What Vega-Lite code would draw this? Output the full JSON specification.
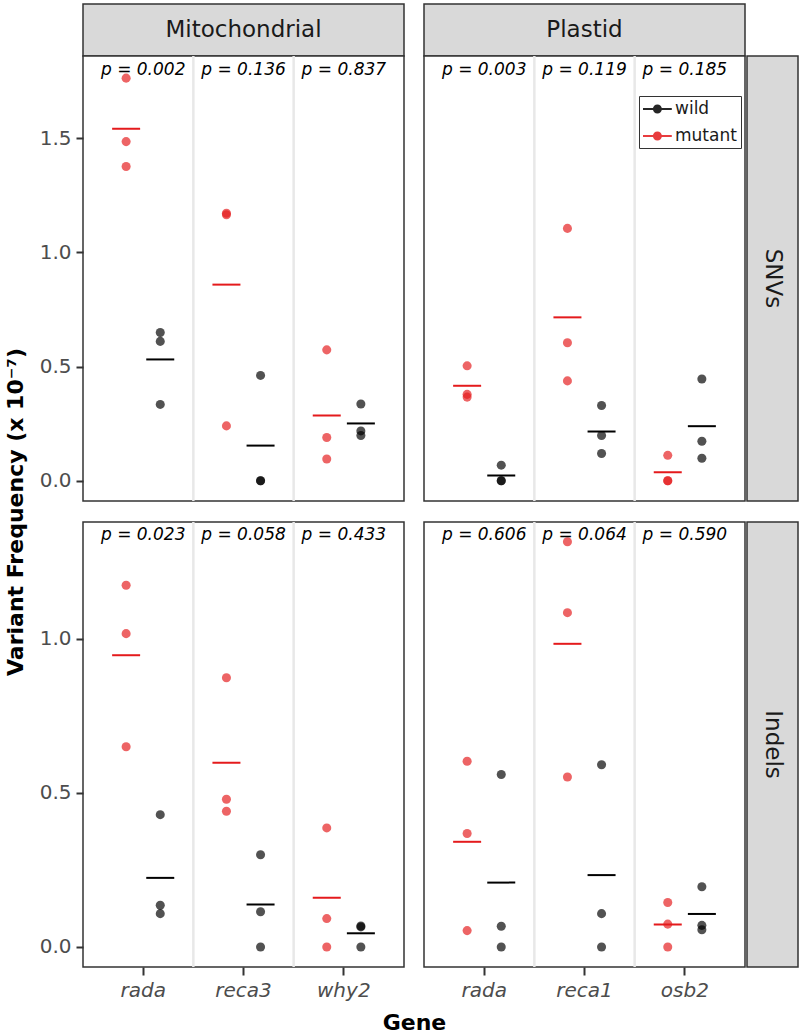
{
  "$schema": "https://vega.github.io/schema/vega-lite/v6.json",
  "background": "white",
  "padding": {"left": 3, "top": 1, "right": 1, "bottom": 0},
  "columns": 4,
  "spacing": {"row": 0, "column": 2},
  "align": "each",
  "bounds": "flush",
  "resolve": {"scale": {"color": "independent"}, "legend": {"color": "independent"}},
  "datasets": {
    "pts": [
      {"org":"Mitochondrial","type":"SNVs","gene":"rada","genotype":"mutant","freq":1.763},
      {"org":"Mitochondrial","type":"SNVs","gene":"rada","genotype":"mutant","freq":1.485},
      {"org":"Mitochondrial","type":"SNVs","gene":"rada","genotype":"mutant","freq":1.376},
      {"org":"Mitochondrial","type":"SNVs","gene":"rada","genotype":"wild","freq":0.649},
      {"org":"Mitochondrial","type":"SNVs","gene":"rada","genotype":"wild","freq":0.610},
      {"org":"Mitochondrial","type":"SNVs","gene":"rada","genotype":"wild","freq":0.334},
      {"org":"Mitochondrial","type":"SNVs","gene":"reca3","genotype":"mutant","freq":1.171},
      {"org":"Mitochondrial","type":"SNVs","gene":"reca3","genotype":"mutant","freq":1.165},
      {"org":"Mitochondrial","type":"SNVs","gene":"reca3","genotype":"mutant","freq":0.240},
      {"org":"Mitochondrial","type":"SNVs","gene":"reca3","genotype":"wild","freq":0.461},
      {"org":"Mitochondrial","type":"SNVs","gene":"reca3","genotype":"wild","freq":0.0},
      {"org":"Mitochondrial","type":"SNVs","gene":"reca3","genotype":"wild","freq":0.0},
      {"org":"Mitochondrial","type":"SNVs","gene":"why2","genotype":"mutant","freq":0.573},
      {"org":"Mitochondrial","type":"SNVs","gene":"why2","genotype":"mutant","freq":0.189},
      {"org":"Mitochondrial","type":"SNVs","gene":"why2","genotype":"mutant","freq":0.095},
      {"org":"Mitochondrial","type":"SNVs","gene":"why2","genotype":"wild","freq":0.336},
      {"org":"Mitochondrial","type":"SNVs","gene":"why2","genotype":"wild","freq":0.218},
      {"org":"Mitochondrial","type":"SNVs","gene":"why2","genotype":"wild","freq":0.198},
      {"org":"Plastid","type":"SNVs","gene":"rada","genotype":"mutant","freq":0.503},
      {"org":"Plastid","type":"SNVs","gene":"rada","genotype":"mutant","freq":0.378},
      {"org":"Plastid","type":"SNVs","gene":"rada","genotype":"mutant","freq":0.366},
      {"org":"Plastid","type":"SNVs","gene":"rada","genotype":"wild","freq":0.068},
      {"org":"Plastid","type":"SNVs","gene":"rada","genotype":"wild","freq":0.0},
      {"org":"Plastid","type":"SNVs","gene":"rada","genotype":"wild","freq":0.0},
      {"org":"Plastid","type":"SNVs","gene":"reca1","genotype":"mutant","freq":1.105},
      {"org":"Plastid","type":"SNVs","gene":"reca1","genotype":"mutant","freq":0.604},
      {"org":"Plastid","type":"SNVs","gene":"reca1","genotype":"mutant","freq":0.437},
      {"org":"Plastid","type":"SNVs","gene":"reca1","genotype":"wild","freq":0.329},
      {"org":"Plastid","type":"SNVs","gene":"reca1","genotype":"wild","freq":0.198},
      {"org":"Plastid","type":"SNVs","gene":"reca1","genotype":"wild","freq":0.119},
      {"org":"Plastid","type":"SNVs","gene":"osb2","genotype":"mutant","freq":0.111},
      {"org":"Plastid","type":"SNVs","gene":"osb2","genotype":"mutant","freq":0.0},
      {"org":"Plastid","type":"SNVs","gene":"osb2","genotype":"mutant","freq":0.0},
      {"org":"Plastid","type":"SNVs","gene":"osb2","genotype":"wild","freq":0.445},
      {"org":"Plastid","type":"SNVs","gene":"osb2","genotype":"wild","freq":0.173},
      {"org":"Plastid","type":"SNVs","gene":"osb2","genotype":"wild","freq":0.098},
      {"org":"Mitochondrial","type":"Indels","gene":"rada","genotype":"mutant","freq":1.173},
      {"org":"Mitochondrial","type":"Indels","gene":"rada","genotype":"mutant","freq":1.016},
      {"org":"Mitochondrial","type":"Indels","gene":"rada","genotype":"mutant","freq":0.649},
      {"org":"Mitochondrial","type":"Indels","gene":"rada","genotype":"wild","freq":0.429},
      {"org":"Mitochondrial","type":"Indels","gene":"rada","genotype":"wild","freq":0.135},
      {"org":"Mitochondrial","type":"Indels","gene":"rada","genotype":"wild","freq":0.108},
      {"org":"Mitochondrial","type":"Indels","gene":"reca3","genotype":"mutant","freq":0.873},
      {"org":"Mitochondrial","type":"Indels","gene":"reca3","genotype":"mutant","freq":0.479},
      {"org":"Mitochondrial","type":"Indels","gene":"reca3","genotype":"mutant","freq":0.440},
      {"org":"Mitochondrial","type":"Indels","gene":"reca3","genotype":"wild","freq":0.299},
      {"org":"Mitochondrial","type":"Indels","gene":"reca3","genotype":"wild","freq":0.114},
      {"org":"Mitochondrial","type":"Indels","gene":"reca3","genotype":"wild","freq":0.0},
      {"org":"Mitochondrial","type":"Indels","gene":"why2","genotype":"mutant","freq":0.386},
      {"org":"Mitochondrial","type":"Indels","gene":"why2","genotype":"mutant","freq":0.092},
      {"org":"Mitochondrial","type":"Indels","gene":"why2","genotype":"mutant","freq":0.0},
      {"org":"Mitochondrial","type":"Indels","gene":"why2","genotype":"wild","freq":0.068},
      {"org":"Mitochondrial","type":"Indels","gene":"why2","genotype":"wild","freq":0.065},
      {"org":"Mitochondrial","type":"Indels","gene":"why2","genotype":"wild","freq":0.0},
      {"org":"Plastid","type":"Indels","gene":"rada","genotype":"mutant","freq":0.602},
      {"org":"Plastid","type":"Indels","gene":"rada","genotype":"mutant","freq":0.368},
      {"org":"Plastid","type":"Indels","gene":"rada","genotype":"mutant","freq":0.053},
      {"org":"Plastid","type":"Indels","gene":"rada","genotype":"wild","freq":0.559},
      {"org":"Plastid","type":"Indels","gene":"rada","genotype":"wild","freq":0.067},
      {"org":"Plastid","type":"Indels","gene":"rada","genotype":"wild","freq":0.0},
      {"org":"Plastid","type":"Indels","gene":"reca1","genotype":"mutant","freq":1.314},
      {"org":"Plastid","type":"Indels","gene":"reca1","genotype":"mutant","freq":1.084},
      {"org":"Plastid","type":"Indels","gene":"reca1","genotype":"mutant","freq":0.551},
      {"org":"Plastid","type":"Indels","gene":"reca1","genotype":"wild","freq":0.591},
      {"org":"Plastid","type":"Indels","gene":"reca1","genotype":"wild","freq":0.108},
      {"org":"Plastid","type":"Indels","gene":"reca1","genotype":"wild","freq":0.0},
      {"org":"Plastid","type":"Indels","gene":"osb2","genotype":"mutant","freq":0.144},
      {"org":"Plastid","type":"Indels","gene":"osb2","genotype":"mutant","freq":0.074},
      {"org":"Plastid","type":"Indels","gene":"osb2","genotype":"mutant","freq":0.0},
      {"org":"Plastid","type":"Indels","gene":"osb2","genotype":"wild","freq":0.195},
      {"org":"Plastid","type":"Indels","gene":"osb2","genotype":"wild","freq":0.070},
      {"org":"Plastid","type":"Indels","gene":"osb2","genotype":"wild","freq":0.056}
    ],
    "pv": [
      {"org":"Mitochondrial","type":"SNVs","gene":"rada","p":"p = 0.002"},
      {"org":"Mitochondrial","type":"SNVs","gene":"reca3","p":"p = 0.136"},
      {"org":"Mitochondrial","type":"SNVs","gene":"why2","p":"p = 0.837"},
      {"org":"Plastid","type":"SNVs","gene":"rada","p":"p = 0.003"},
      {"org":"Plastid","type":"SNVs","gene":"reca1","p":"p = 0.119"},
      {"org":"Plastid","type":"SNVs","gene":"osb2","p":"p = 0.185"},
      {"org":"Mitochondrial","type":"Indels","gene":"rada","p":"p = 0.023"},
      {"org":"Mitochondrial","type":"Indels","gene":"reca3","p":"p = 0.058"},
      {"org":"Mitochondrial","type":"Indels","gene":"why2","p":"p = 0.433"},
      {"org":"Plastid","type":"Indels","gene":"rada","p":"p = 0.606"},
      {"org":"Plastid","type":"Indels","gene":"reca1","p":"p = 0.064"},
      {"org":"Plastid","type":"Indels","gene":"osb2","p":"p = 0.590"}
    ]
  },
  "concat": [
    {"width":321,"height":52,"view":{"fill":"#D9D9D9","stroke":"#333333","strokeWidth":1.5},
     "data":{"values":[{"label":"Mitochondrial"}]},
     "mark":{"type":"text","fontSize":23,"color":"#1A1A1A","font":"DejaVu Sans"},
     "encoding":{"text":{"field":"label"}}},
    {"width":16,"height":1,"view":{"stroke":null},"data":{"values":[{}]},"mark":{"type":"point","opacity":0},"encoding":{}},
    {"width":321,"height":52,"view":{"fill":"#D9D9D9","stroke":"#333333","strokeWidth":1.5},
     "data":{"values":[{"label":"Plastid"}]},
     "mark":{"type":"text","fontSize":23,"color":"#1A1A1A","font":"DejaVu Sans"},
     "encoding":{"text":{"field":"label"}}},
    {"width":1,"height":1,"view":{"stroke":null},"data":{"values":[{}]},"mark":{"type":"point","opacity":0},"encoding":{}},

    {"width":321,"height":445,"view":{"fill":"white","stroke":"#333333","strokeWidth":1.5},
     "layer":[
      {"data":{"values":[{"gene":"reca3"},{"gene":"why2"}]},
       "mark":{"type":"rule","color":"#E8E8E8","strokeWidth":2.5},
       "encoding":{"x":{"field":"gene","type":"nominal","bandPosition":0,"scale":{"domain":["rada","reca3","why2"],"paddingInner":0,"paddingOuter":0.1},"axis":null}}},
      {"data":{"name":"pts"},"transform":[{"filter":"datum.org === 'Mitochondrial' && datum.type === 'SNVs'"}],
       "mark":{"type":"circle","size":82,"opacity":0.68},
       "encoding":{
        "x":{"field":"gene","type":"nominal","scale":{"domain":["rada","reca3","why2"],"paddingInner":0,"paddingOuter":0.1},"axis":null},
        "xOffset":{"field":"genotype","type":"nominal","scale":{"domain":["mutant","wild"],"paddingInner":0,"paddingOuter":0.47}},
        "y":{"field":"freq","type":"quantitative","scale":{"domain":[-0.089,1.86],"nice":false,"zero":false},
             "axis":{"title":null,"values":[0,0.5,1,1.5],"format":".1f","labelFontSize":20,"labelColor":"#4D4D4D","labelFont":"DejaVu Sans","tickSize":7,"tickWidth":2,"tickColor":"#333333","domain":false,"grid":false,"labelPadding":5}},
        "color":{"field":"genotype","type":"nominal","scale":{"domain":["wild","mutant"],"range":["#000000","#E41A1C"]},"legend":null}}},
      {"data":{"name":"pts"},"transform":[{"filter":"datum.org === 'Mitochondrial' && datum.type === 'SNVs'"},{"aggregate":[{"op":"mean","field":"freq","as":"freq"}],"groupby":["gene","genotype"]}],
       "mark":{"type":"tick","thickness":2,"size":28,"opacity":1},
       "encoding":{
        "x":{"field":"gene","type":"nominal","scale":{"domain":["rada","reca3","why2"],"paddingInner":0,"paddingOuter":0.1},"axis":null},
        "xOffset":{"field":"genotype","type":"nominal","scale":{"domain":["mutant","wild"],"paddingInner":0,"paddingOuter":0.47}},
        "y":{"field":"freq","type":"quantitative","scale":{"domain":[-0.089,1.86],"nice":false,"zero":false},
             "axis":{"title":null,"values":[0,0.5,1,1.5],"format":".1f","labelFontSize":20,"labelColor":"#4D4D4D","labelFont":"DejaVu Sans","tickSize":7,"tickWidth":2,"tickColor":"#333333","domain":false,"grid":false,"labelPadding":5}},
        "color":{"field":"genotype","type":"nominal","scale":{"domain":["wild","mutant"],"range":["#000000","#E41A1C"]},"legend":null}}},
      {"data":{"name":"pv"},"transform":[{"filter":"datum.org === 'Mitochondrial' && datum.type === 'SNVs'"}],
       "mark":{"type":"text","fontStyle":"italic","fontSize":17,"color":"#000000","font":"DejaVu Sans"},
       "encoding":{
        "x":{"field":"gene","type":"nominal","scale":{"domain":["rada","reca3","why2"],"paddingInner":0,"paddingOuter":0.1},"axis":null},
        "y":{"datum":1.8,"type":"quantitative","axis":{"title":null,"values":[0,0.5,1,1.5],"format":".1f","labelFontSize":20,"labelColor":"#4D4D4D","labelFont":"DejaVu Sans","tickSize":7,"tickWidth":2,"tickColor":"#333333","domain":false,"grid":false,"labelPadding":5}},
        "text":{"field":"p"}}}
     ]},
    {"width":16,"height":1,"view":{"stroke":null},"data":{"values":[{}]},"mark":{"type":"point","opacity":0},"encoding":{}},
    {"width":321,"height":445,"view":{"fill":"white","stroke":"#333333","strokeWidth":1.5},
     "layer":[
      {"data":{"values":[{"gene":"reca1"},{"gene":"osb2"}]},
       "mark":{"type":"rule","color":"#E8E8E8","strokeWidth":2.5},
       "encoding":{"x":{"field":"gene","type":"nominal","bandPosition":0,"scale":{"domain":["rada","reca1","osb2"],"paddingInner":0,"paddingOuter":0.1},"axis":null}}},
      {"data":{"name":"pts"},"transform":[{"filter":"datum.org === 'Plastid' && datum.type === 'SNVs'"}],
       "mark":{"type":"circle","size":82,"opacity":0.68},
       "encoding":{
        "x":{"field":"gene","type":"nominal","scale":{"domain":["rada","reca1","osb2"],"paddingInner":0,"paddingOuter":0.1},"axis":null},
        "xOffset":{"field":"genotype","type":"nominal","scale":{"domain":["mutant","wild"],"paddingInner":0,"paddingOuter":0.47}},
        "y":{"field":"freq","type":"quantitative","scale":{"domain":[-0.089,1.86],"nice":false,"zero":false},"axis":null},
        "color":{"field":"genotype","type":"nominal","scale":{"domain":["wild","mutant"],"range":["#000000","#E41A1C"]},
          "legend":{"orient":"none","legendX":215,"legendY":40,"title":null,
            "symbolType":"M-1,-0.11H2.2V0.11H-1Z M1.1,0A0.5,0.5 0 1,1 0.1,0A0.5,0.5 0 1,1 1.1,0Z",
            "symbolSize":324,"symbolOpacity":0.85,"symbolStrokeWidth":0,"labelFontSize":17,"labelFont":"DejaVu Sans","labelColor":"#1A1A1A","labelOffset":14,"rowPadding":10,"padding":4,"strokeColor":"#333333","fillColor":"white"}}}},
      {"data":{"name":"pts"},"transform":[{"filter":"datum.org === 'Plastid' && datum.type === 'SNVs'"},{"aggregate":[{"op":"mean","field":"freq","as":"freq"}],"groupby":["gene","genotype"]}],
       "mark":{"type":"tick","thickness":2,"size":28,"opacity":1},
       "encoding":{
        "x":{"field":"gene","type":"nominal","scale":{"domain":["rada","reca1","osb2"],"paddingInner":0,"paddingOuter":0.1},"axis":null},
        "xOffset":{"field":"genotype","type":"nominal","scale":{"domain":["mutant","wild"],"paddingInner":0,"paddingOuter":0.47}},
        "y":{"field":"freq","type":"quantitative","scale":{"domain":[-0.089,1.86],"nice":false,"zero":false},"axis":null},
        "color":{"field":"genotype","type":"nominal","scale":{"domain":["wild","mutant"],"range":["#000000","#E41A1C"]},"legend":null}}},
      {"data":{"name":"pv"},"transform":[{"filter":"datum.org === 'Plastid' && datum.type === 'SNVs'"}],
       "mark":{"type":"text","fontStyle":"italic","fontSize":17,"color":"#000000","font":"DejaVu Sans"},
       "encoding":{
        "x":{"field":"gene","type":"nominal","scale":{"domain":["rada","reca1","osb2"],"paddingInner":0,"paddingOuter":0.1},"axis":null},
        "y":{"datum":1.8,"type":"quantitative","axis":null},
        "text":{"field":"p"}}}
     ]},
    {"width":51,"height":445,"view":{"fill":"#D9D9D9","stroke":"#333333","strokeWidth":1.5},
     "data":{"values":[{"label":"SNVs"}]},
     "mark":{"type":"text","fontSize":23,"angle":90,"color":"#1A1A1A","font":"DejaVu Sans"},
     "encoding":{"text":{"field":"label"}}},

    {"width":321,"height":21,"view":{"stroke":null},"data":{"values":[{}]},"mark":{"type":"point","opacity":0},
     "encoding":{"y":{"datum":0,"type":"quantitative","axis":{"title":"Variant Frequency (x 10⁻⁷)","labels":false,"ticks":false,"domain":false,"grid":false,"titleFontSize":22,"titleFontWeight":"bold","titleColor":"#000000","titleFont":"DejaVu Sans","titlePadding":56}}}},
    {"width":16,"height":21,"view":{"stroke":null},"data":{"values":[{}]},"mark":{"type":"point","opacity":0},"encoding":{}},
    {"width":1,"height":21,"view":{"stroke":null},"data":{"values":[{}]},"mark":{"type":"point","opacity":0},"encoding":{}},
    {"width":1,"height":21,"view":{"stroke":null},"data":{"values":[{}]},"mark":{"type":"point","opacity":0},"encoding":{}},

    {"width":321,"height":445,"view":{"fill":"white","stroke":"#333333","strokeWidth":1.5},
     "layer":[
      {"data":{"values":[{"gene":"reca3"},{"gene":"why2"}]},
       "mark":{"type":"rule","color":"#E8E8E8","strokeWidth":2.5},
       "encoding":{"x":{"field":"gene","type":"nominal","bandPosition":0,"scale":{"domain":["rada","reca3","why2"],"paddingInner":0,"paddingOuter":0.1},
         "axis":{"title":null,"labelFontSize":20,"labelFontStyle":"italic","labelFont":"DejaVu Sans","labelColor":"#4D4D4D","tickSize":8,"tickWidth":2,"tickColor":"#333333","domain":false,"grid":false,"labelPadding":5,"labelAngle":0}}}},
      {"data":{"name":"pts"},"transform":[{"filter":"datum.org === 'Mitochondrial' && datum.type === 'Indels'"}],
       "mark":{"type":"circle","size":82,"opacity":0.68},
       "encoding":{
        "x":{"field":"gene","type":"nominal","scale":{"domain":["rada","reca3","why2"],"paddingInner":0,"paddingOuter":0.1},
         "axis":{"title":null,"labelFontSize":20,"labelFontStyle":"italic","labelFont":"DejaVu Sans","labelColor":"#4D4D4D","tickSize":8,"tickWidth":2,"tickColor":"#333333","domain":false,"grid":false,"labelPadding":5,"labelAngle":0}},
        "xOffset":{"field":"genotype","type":"nominal","scale":{"domain":["mutant","wild"],"paddingInner":0,"paddingOuter":0.47}},
        "y":{"field":"freq","type":"quantitative","scale":{"domain":[-0.065,1.378],"nice":false,"zero":false},
             "axis":{"title":null,"values":[0,0.5,1],"format":".1f","labelFontSize":20,"labelColor":"#4D4D4D","labelFont":"DejaVu Sans","tickSize":7,"tickWidth":2,"tickColor":"#333333","domain":false,"grid":false,"labelPadding":5}},
        "color":{"field":"genotype","type":"nominal","scale":{"domain":["wild","mutant"],"range":["#000000","#E41A1C"]},"legend":null}}},
      {"data":{"name":"pts"},"transform":[{"filter":"datum.org === 'Mitochondrial' && datum.type === 'Indels'"},{"aggregate":[{"op":"mean","field":"freq","as":"freq"}],"groupby":["gene","genotype"]}],
       "mark":{"type":"tick","thickness":2,"size":28,"opacity":1},
       "encoding":{
        "x":{"field":"gene","type":"nominal","scale":{"domain":["rada","reca3","why2"],"paddingInner":0,"paddingOuter":0.1},
         "axis":{"title":null,"labelFontSize":20,"labelFontStyle":"italic","labelFont":"DejaVu Sans","labelColor":"#4D4D4D","tickSize":8,"tickWidth":2,"tickColor":"#333333","domain":false,"grid":false,"labelPadding":5,"labelAngle":0}},
        "xOffset":{"field":"genotype","type":"nominal","scale":{"domain":["mutant","wild"],"paddingInner":0,"paddingOuter":0.47}},
        "y":{"field":"freq","type":"quantitative","scale":{"domain":[-0.065,1.378],"nice":false,"zero":false},
             "axis":{"title":null,"values":[0,0.5,1],"format":".1f","labelFontSize":20,"labelColor":"#4D4D4D","labelFont":"DejaVu Sans","tickSize":7,"tickWidth":2,"tickColor":"#333333","domain":false,"grid":false,"labelPadding":5}},
        "color":{"field":"genotype","type":"nominal","scale":{"domain":["wild","mutant"],"range":["#000000","#E41A1C"]},"legend":null}}},
      {"data":{"name":"pv"},"transform":[{"filter":"datum.org === 'Mitochondrial' && datum.type === 'Indels'"}],
       "mark":{"type":"text","fontStyle":"italic","fontSize":17,"color":"#000000","font":"DejaVu Sans"},
       "encoding":{
        "x":{"field":"gene","type":"nominal","scale":{"domain":["rada","reca3","why2"],"paddingInner":0,"paddingOuter":0.1},
         "axis":{"title":null,"labelFontSize":20,"labelFontStyle":"italic","labelFont":"DejaVu Sans","labelColor":"#4D4D4D","tickSize":8,"tickWidth":2,"tickColor":"#333333","domain":false,"grid":false,"labelPadding":5,"labelAngle":0}},
        "y":{"datum":1.335,"type":"quantitative","axis":{"title":null,"values":[0,0.5,1],"format":".1f","labelFontSize":20,"labelColor":"#4D4D4D","labelFont":"DejaVu Sans","tickSize":7,"tickWidth":2,"tickColor":"#333333","domain":false,"grid":false,"labelPadding":5}},
        "text":{"field":"p"}}}
     ]},
    {"width":16,"height":445,"view":{"stroke":null},"data":{"values":[{}]},"mark":{"type":"point","opacity":0},
     "encoding":{"x":{"datum":0,"type":"quantitative","axis":{"title":"Gene","labels":false,"ticks":false,"domain":false,"grid":false,"titleFontSize":22,"titleFontWeight":"bold","titleColor":"#000000","titleFont":"DejaVu Sans","titlePadding":45}}}},
    {"width":321,"height":445,"view":{"fill":"white","stroke":"#333333","strokeWidth":1.5},
     "layer":[
      {"data":{"values":[{"gene":"reca1"},{"gene":"osb2"}]},
       "mark":{"type":"rule","color":"#E8E8E8","strokeWidth":2.5},
       "encoding":{"x":{"field":"gene","type":"nominal","bandPosition":0,"scale":{"domain":["rada","reca1","osb2"],"paddingInner":0,"paddingOuter":0.1},
         "axis":{"title":null,"labelFontSize":20,"labelFontStyle":"italic","labelFont":"DejaVu Sans","labelColor":"#4D4D4D","tickSize":8,"tickWidth":2,"tickColor":"#333333","domain":false,"grid":false,"labelPadding":5,"labelAngle":0}}}},
      {"data":{"name":"pts"},"transform":[{"filter":"datum.org === 'Plastid' && datum.type === 'Indels'"}],
       "mark":{"type":"circle","size":82,"opacity":0.68},
       "encoding":{
        "x":{"field":"gene","type":"nominal","scale":{"domain":["rada","reca1","osb2"],"paddingInner":0,"paddingOuter":0.1},
         "axis":{"title":null,"labelFontSize":20,"labelFontStyle":"italic","labelFont":"DejaVu Sans","labelColor":"#4D4D4D","tickSize":8,"tickWidth":2,"tickColor":"#333333","domain":false,"grid":false,"labelPadding":5,"labelAngle":0}},
        "xOffset":{"field":"genotype","type":"nominal","scale":{"domain":["mutant","wild"],"paddingInner":0,"paddingOuter":0.47}},
        "y":{"field":"freq","type":"quantitative","scale":{"domain":[-0.065,1.378],"nice":false,"zero":false},"axis":null},
        "color":{"field":"genotype","type":"nominal","scale":{"domain":["wild","mutant"],"range":["#000000","#E41A1C"]},"legend":null}}},
      {"data":{"name":"pts"},"transform":[{"filter":"datum.org === 'Plastid' && datum.type === 'Indels'"},{"aggregate":[{"op":"mean","field":"freq","as":"freq"}],"groupby":["gene","genotype"]}],
       "mark":{"type":"tick","thickness":2,"size":28,"opacity":1},
       "encoding":{
        "x":{"field":"gene","type":"nominal","scale":{"domain":["rada","reca1","osb2"],"paddingInner":0,"paddingOuter":0.1},
         "axis":{"title":null,"labelFontSize":20,"labelFontStyle":"italic","labelFont":"DejaVu Sans","labelColor":"#4D4D4D","tickSize":8,"tickWidth":2,"tickColor":"#333333","domain":false,"grid":false,"labelPadding":5,"labelAngle":0}},
        "xOffset":{"field":"genotype","type":"nominal","scale":{"domain":["mutant","wild"],"paddingInner":0,"paddingOuter":0.47}},
        "y":{"field":"freq","type":"quantitative","scale":{"domain":[-0.065,1.378],"nice":false,"zero":false},"axis":null},
        "color":{"field":"genotype","type":"nominal","scale":{"domain":["wild","mutant"],"range":["#000000","#E41A1C"]},"legend":null}}},
      {"data":{"name":"pv"},"transform":[{"filter":"datum.org === 'Plastid' && datum.type === 'Indels'"}],
       "mark":{"type":"text","fontStyle":"italic","fontSize":17,"color":"#000000","font":"DejaVu Sans"},
       "encoding":{
        "x":{"field":"gene","type":"nominal","scale":{"domain":["rada","reca1","osb2"],"paddingInner":0,"paddingOuter":0.1},
         "axis":{"title":null,"labelFontSize":20,"labelFontStyle":"italic","labelFont":"DejaVu Sans","labelColor":"#4D4D4D","tickSize":8,"tickWidth":2,"tickColor":"#333333","domain":false,"grid":false,"labelPadding":5,"labelAngle":0}},
        "y":{"datum":1.335,"type":"quantitative","axis":null},
        "text":{"field":"p"}}}
     ]},
    {"width":51,"height":445,"view":{"fill":"#D9D9D9","stroke":"#333333","strokeWidth":1.5},
     "data":{"values":[{"label":"Indels"}]},
     "mark":{"type":"text","fontSize":23,"angle":90,"color":"#1A1A1A","font":"DejaVu Sans"},
     "encoding":{"text":{"field":"label"}}}
  ],
  "config": {
    "font": "DejaVu Sans",
    "view": {"stroke": null},
    "axis": {"labelFont": "DejaVu Sans", "titleFont": "DejaVu Sans"},
    "legend": {"labelFont": "DejaVu Sans"}
  }
}
